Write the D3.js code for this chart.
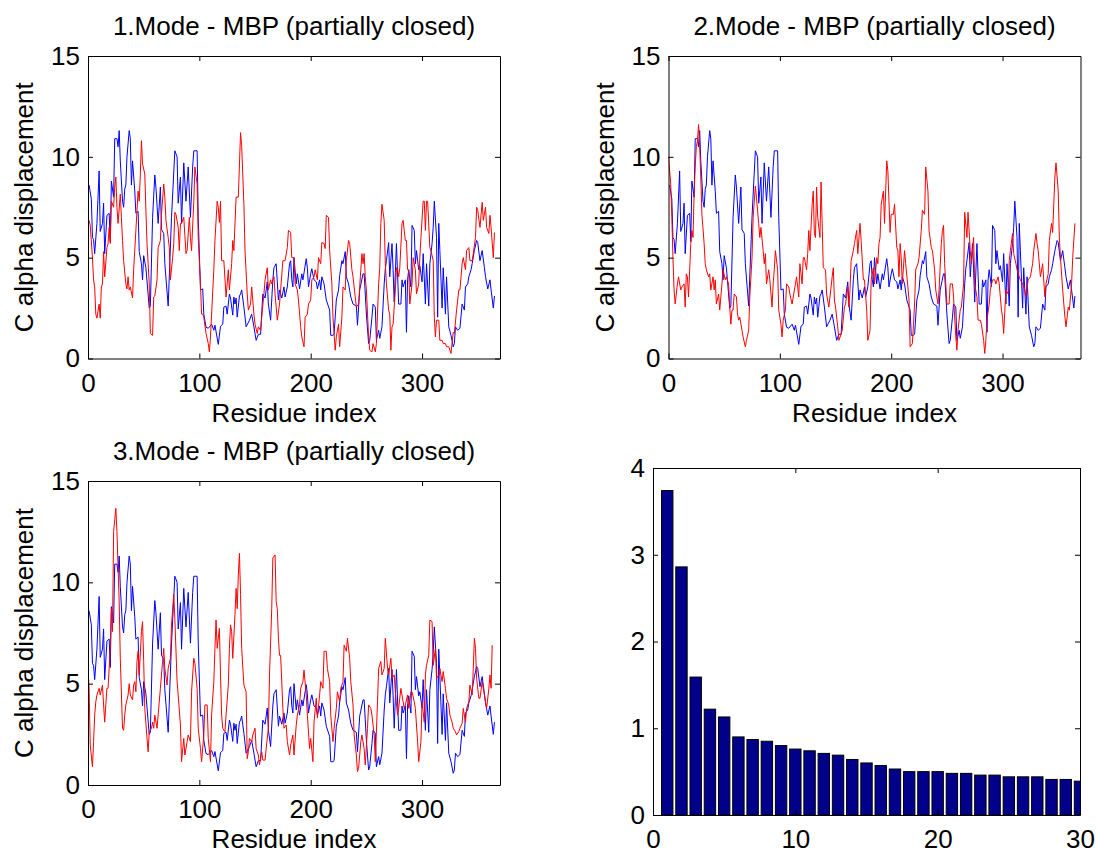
<!DOCTYPE html>
<html>
<head>
<meta charset="utf-8">
<script src="https://cdn.jsdelivr.net/npm/d3@7"></script>
<style>
    body { margin: 0; background: #fff; }
    svg { display: block; }
</style>
</head>
<body>
<svg id="fig" width="1097" height="855"></svg>
<script>
/*
*    Normal mode displacement panels + mode spectrum bar chart
*/

// ---- data ----
var titles = ["1.Mode - MBP (partially closed)", "2.Mode - MBP (partially closed)", "3.Mode - MBP (partially closed)"];
var residueTicks = [0, 100, 200, 300];
var dispTicks = [0, 5, 10, 15];
var barTicksX = [0, 10, 20, 30];
var barTicksY = [0, 1, 2, 3, 4];

// blue trace, same in all three panels: [residue, displacement]
var blueDisp = [[1,8.6],[3,7.9],[4,6.0],[5,5.9],[6,5.2],[8,6.7],[10,9.3],[11,6.3],[13,6.7],[14,7.7],[15,5.2],[17,7.1],[19,7.2],[20,5.8],[21,8.8],[23,8.0],[24,10.9],[26,10.9],[27,10.5],[28,11.3],[29,9.8],[31,7.8],[32,7.5],[33,8.4],[34,8.6],[35,10.0],[37,11.3],[38,10.9],[39,8.6],[40,9.8],[42,8.3],[43,7.2],[45,7.3],[46,5.3],[48,4.7],[49,3.9],[50,5.1],[52,4.5],[55,2.5],[56,2.6],[58,7.0],[60,9.1],[61,8.5],[63,6.7],[65,8.5],[66,6.4],[68,6.2],[69,4.7],[72,2.6],[75,7.0],[78,10.3],[80,10.0],[81,7.7],[83,9.0],[84,6.7],[86,9.7],[88,7.8],[90,9.5],[92,7.0],[94,9.5],[95,10.3],[98,10.3],[99,7.0],[101,3.4],[103,3.45],[104,2.2],[106,1.55],[108,1.5],[111,1.7],[113,1.4],[114,1.65],[117,0.7],[119,1.6],[121,1.7],[122,2.55],[124,2.6],[125,2.2],[127,3.2],[128,3.0],[130,2.15],[131,3.05],[132,2.7],[133,3.0],[134,2.05],[136,3.1],[137,3.2],[138,3.4],[140,2.55],[142,1.57],[145,1.9],[147,2.2],[149,1.57],[151,0.9],[153,1.2],[155,1.2],[157,3.2],[159,3.0],[161,3.8],[162,2.7],[164,1.9],[166,3.9],[167,4.5],[169,4.7],[171,2.9],[172,3.4],[174,3.0],[176,3.55],[177,3.05],[179,3.55],[181,4.7],[182,4.85],[183,3.9],[184,3.55],[185,5.0],[187,3.7],[188,4.2],[190,3.45],[192,4.2],[193,3.9],[196,4.95],[197,4.5],[198,3.55],[200,4.2],[201,4.45],[203,3.9],[205,3.8],[206,3.45],[208,3.9],[209,3.4],[210,4.05],[212,3.7],[214,2.9],[217,2.4],[218,1.15],[220,1.15],[221,1.2],[223,2.9],[225,3.4],[226,4.1],[228,4.85],[229,4.7],[231,5.3],[232,4.05],[234,3.7],[236,3.05],[238,2.7],[241,2.6],[242,1.65],[244,3.4],[247,4.2],[248,4.2],[250,2.2],[252,0.74],[253,0.9],[255,2.05],[256,2.7],[258,2.55],[259,0.9],[261,1.4],[262,1.0],[264,1.57],[266,3.7],[267,4.45],[268,4.85],[270,5.75],[271,4.05],[273,5.7],[274,4.4],[275,2.8],[277,5.7],[279,2.7],[281,2.7],[282,3.9],[283,3.55],[285,3.9],[286,1.3],[287,3.9],[288,4.4],[290,3.55],[291,6.6],[293,6.35],[294,4.7],[295,5.35],[297,4.4],[298,4.6],[300,3.8],[301,5.2],[303,2.7],[304,4.7],[306,2.6],[307,4.7],[309,5.7],[310,6.5],[311,7.8],[313,6.0],[314,2.05],[315,6.7],[316,5.35],[318,2.5],[319,4.5],[321,2.2],[322,4.05],[324,1.57],[326,1.15],[328,0.58],[329,0.74],[330,1.57],[332,1.4],[334,1.5],[336,2.7],[338,2.4],[339,3.55],[341,3.7],[342,4.05],[344,4.4],[345,4.7],[347,5.35],[349,5.85],[350,5.75],[352,4.85],[354,5.35],[356,4.5],[357,4.05],[359,3.45],[361,3.9],[362,3.4],[364,2.5],[365,3.1]];

// red traces, one per mode
var redMode1 = [[1,6.85],[2,6.6],[4,5.0],[5,3.9],[6,3.55],[7,2.2],[8,2.0],[10,2.7],[11,2.0],[12,3.55],[13,3.7],[14,5.3],[15,4.05],[17,5.5],[18,5.7],[19,6.5],[20,5.7],[21,7.8],[23,7.5],[24,8.5],[25,9.0],[26,7.5],[27,6.7],[29,8.15],[30,7.0],[31,5.85],[32,4.85],[34,3.7],[35,3.45],[36,4.05],[37,3.4],[38,3.55],[40,3.0],[41,4.4],[43,6.35],[45,8.3],[46,7.8],[47,9.15],[48,10.8],[49,9.65],[51,9.15],[52,7.35],[53,5.7],[55,3.7],[56,1.24],[58,1.15],[59,3.05],[60,3.1],[62,3.9],[63,5.5],[65,5.85],[66,7.15],[68,8.65],[69,8.0],[70,6.85],[72,6.0],[73,5.5],[74,3.9],[76,5.0],[77,5.7],[78,7.25],[79,7.15],[81,6.5],[82,5.35],[83,6.7],[84,6.7],[86,7.0],[87,6.1],[88,5.2],[89,5.35],[91,7.0],[92,6.0],[93,5.35],[95,7.8],[96,9.5],[98,8.65],[99,6.0],[101,3.7],[102,2.2],[103,2.2],[104,2.05],[106,1.24],[108,0.74],[109,0.33],[110,1.07],[111,2.2],[113,4.4],[114,5.85],[116,7.8],[117,7.5],[118,6.75],[119,7.8],[120,4.85],[122,4.85],[124,3.05],[126,4.4],[127,3.4],[129,4.7],[130,5.85],[131,5.35],[133,8.0],[135,8.0],[137,11.2],[138,10.55],[140,7.65],[141,5.35],[143,3.2],[144,2.4],[146,2.7],[147,3.55],[149,2.2],[150,1.7],[152,1.24],[153,1.57],[155,1.4],[156,2.05],[158,3.2],[159,3.9],[161,4.5],[162,3.4],[164,3.9],[165,3.7],[167,4.05],[168,3.2],[170,1.9],[172,2.7],[173,3.4],[175,4.85],[177,4.85],[179,5.5],[180,6.35],[182,6.25],[183,5.0],[185,5.0],[186,3.7],[188,3.4],[189,2.9],[191,1.57],[192,1.07],[194,0.58],[195,2.05],[197,2.2],[198,2.7],[200,2.9],[201,3.9],[203,4.05],[204,4.4],[206,3.9],[207,5.0],[209,4.7],[210,5.75],[212,5.7],[213,5.45],[214,7.1],[216,7.0],[217,5.35],[219,3.7],[220,2.05],[222,0.41],[223,1.07],[225,1.7],[226,0.58],[228,2.05],[229,3.55],[231,3.4],[232,4.85],[234,5.85],[235,5.7],[237,4.4],[238,4.05],[240,3.05],[241,2.55],[243,2.7],[245,4.4],[246,5.2],[247,4.7],[248,5.2],[249,4.05],[250,3.4],[252,1.07],[253,0.41],[255,0.33],[256,0.74],[258,0.33],[259,0.74],[261,3.7],[262,4.5],[263,6.7],[264,7.65],[266,6.85],[267,4.7],[268,3.7],[270,2.4],[271,2.2],[272,0.41],[273,1.57],[274,1.7],[276,3.4],[277,4.5],[278,4.4],[279,4.05],[280,4.5],[282,6.7],[283,6.85],[285,5.85],[286,5.85],[287,4.4],[288,4.4],[289,2.7],[291,3.7],[292,5.0],[294,4.4],[295,3.2],[297,3.7],[298,5.0],[299,6.0],[301,7.8],[302,7.8],[303,6.35],[304,7.8],[305,7.8],[307,5.5],[308,5.35],[310,4.85],[311,2.05],[312,1.07],[313,1.9],[315,1.9],[316,0.9],[318,0.9],[319,0.74],[321,0.74],[322,0.58],[324,0.58],[326,0.25],[328,1.3],[329,1.24],[331,2.4],[333,3.4],[334,3.4],[336,4.7],[337,5.0],[339,4.4],[340,5.35],[342,5.5],[343,4.85],[345,4.85],[346,5.2],[348,6.0],[349,7.5],[350,7.35],[352,6.5],[354,7.75],[355,6.85],[357,7.5],[358,6.5],[360,6.2],[361,7.1],[362,6.5],[364,5.0],[365,6.25]];

var redMode2 = [[0,10.0],[2,8.65],[3,7.0],[4,5.0],[5,3.4],[6,2.7],[8,3.7],[9,4.05],[11,3.4],[12,3.55],[14,3.7],[15,2.55],[16,4.2],[17,4.05],[18,3.05],[20,5.7],[21,6.35],[22,6.0],[23,8.15],[24,9.5],[25,10.5],[26,10.8],[27,11.6],[28,10.5],[29,9.0],[30,7.15],[32,5.7],[33,4.7],[34,4.4],[36,4.05],[37,4.2],[38,3.4],[40,4.05],[41,3.4],[42,3.9],[43,2.7],[45,3.2],[46,2.4],[48,3.7],[49,4.4],[51,3.9],[52,4.05],[54,3.7],[55,2.55],[56,1.7],[57,2.4],[58,2.4],[59,3.2],[61,3.05],[62,2.2],[63,1.9],[64,2.05],[66,1.4],[67,1.07],[69,0.58],[70,0.9],[72,1.4],[73,3.05],[75,5.0],[76,7.0],[78,8.55],[79,8.0],[81,6.7],[82,6.0],[83,6.5],[85,5.35],[86,4.7],[87,5.2],[88,3.7],[90,4.4],[91,3.9],[93,2.55],[94,3.7],[95,4.4],[96,5.35],[98,4.4],[99,2.4],[101,1.7],[102,1.07],[103,1.9],[105,2.4],[106,3.7],[108,3.55],[109,3.2],[111,2.7],[112,3.05],[114,3.7],[115,4.05],[117,3.05],[118,4.7],[120,3.7],[121,5.0],[122,5.0],[124,4.4],[125,5.2],[126,6.35],[127,5.35],[129,7.65],[130,8.3],[131,6.2],[132,6.0],[133,8.5],[134,7.0],[136,6.0],[137,8.75],[138,6.7],[139,4.5],[141,4.4],[142,3.2],[144,2.55],[145,3.05],[147,4.05],[148,4.5],[149,2.9],[150,2.55],[152,1.57],[153,0.9],[155,1.2],[156,1.4],[158,2.55],[159,2.7],[161,3.55],[162,2.55],[163,3.4],[164,4.85],[166,5.35],[167,5.7],[169,6.35],[170,5.2],[172,6.7],[173,5.85],[175,3.9],[176,3.9],[178,2.4],[179,0.9],[181,1.4],[182,3.9],[184,4.5],[185,3.7],[187,5.0],[188,4.7],[189,5.7],[190,6.0],[191,7.65],[193,8.3],[194,6.7],[196,9.8],[197,9.3],[199,6.25],[200,7.15],[202,7.15],[203,7.65],[205,5.5],[206,5.35],[207,4.05],[208,5.7],[209,5.0],[210,3.7],[212,5.35],[213,4.7],[215,3.55],[216,2.9],[217,0.58],[219,0.74],[220,1.7],[221,2.7],[222,4.4],[224,4.7],[225,5.0],[227,6.35],[228,7.35],[230,7.15],[231,9.5],[233,8.3],[234,6.35],[236,5.5],[237,5.35],[239,4.4],[240,3.4],[242,2.7],[243,3.4],[245,5.7],[246,6.35],[247,6.6],[248,4.7],[250,2.7],[252,2.7],[253,3.7],[255,3.7],[256,3.05],[258,1.07],[259,0.41],[260,1.4],[262,2.4],[263,2.55],[265,3.7],[266,7.25],[268,6.0],[269,7.25],[271,5.35],[272,4.7],[274,6.0],[275,3.7],[277,3.05],[278,1.9],[280,1.9],[281,1.7],[283,0.9],[284,0.25],[285,0.9],[286,1.9],[288,2.7],[289,3.4],[291,3.9],[293,3.9],[294,3.7],[296,4.05],[297,3.7],[299,2.4],[300,2.05],[301,1.24],[303,3.4],[305,3.2],[306,4.85],[307,5.35],[309,6.2],[310,5.2],[312,4.7],[313,4.4],[315,4.05],[316,3.9],[318,3.7],[320,3.4],[321,3.05],[323,3.9],[325,4.05],[327,4.7],[328,5.35],[330,6.2],[331,5.7],[332,5.35],[334,4.05],[336,4.7],[338,3.05],[339,3.7],[341,4.2],[342,5.85],[344,6.7],[345,6.25],[347,9.0],[348,9.7],[350,8.3],[351,6.0],[352,5.0],[354,3.4],[356,2.05],[357,1.57],[359,2.55],[360,2.4],[362,3.7],[363,5.0],[365,6.7]];

var redMode3 = [[0,5.75],[1,4.77],[2,1.97],[4,0.9],[5,2.14],[6,3.45],[7,4.1],[8,4.44],[10,4.77],[11,4.44],[13,4.93],[14,3.95],[15,3.1],[16,3.95],[17,4.77],[18,4.77],[20,6.74],[21,8.7],[22,7.57],[23,12.5],[25,13.65],[26,12.5],[28,9.05],[29,6.25],[31,2.8],[32,2.7],[33,3.45],[34,3.95],[36,4.44],[37,5.0],[38,4.44],[40,4.2],[41,4.93],[42,5.1],[43,4.6],[44,6.1],[45,6.6],[46,5.43],[48,7.57],[49,8.06],[50,6.1],[51,3.78],[53,2.3],[54,1.64],[55,2.63],[57,2.8],[58,3.1],[59,2.8],[60,3.45],[62,2.8],[63,3.45],[64,4.1],[65,4.77],[67,6.1],[68,6.74],[69,5.75],[71,4.93],[72,5.75],[74,6.25],[75,7.9],[77,9.4],[78,8.2],[80,5.1],[81,4.44],[83,2.96],[84,1.15],[86,2.3],[87,1.48],[89,2.14],[90,2.47],[92,2.14],[93,4.6],[95,6.25],[96,6.0],[98,4.77],[99,2.8],[101,1.8],[102,1.15],[104,2.47],[105,3.95],[107,3.95],[108,2.3],[110,1.15],[111,3.45],[113,5.1],[114,6.74],[115,8.14],[116,6.74],[118,7.73],[119,5.43],[120,3.45],[121,2.8],[123,2.63],[124,3.45],[126,4.93],[127,6.74],[128,7.9],[129,7.57],[130,6.25],[132,8.4],[133,9.7],[134,8.7],[135,10.36],[136,11.43],[137,9.4],[138,6.74],[140,4.93],[142,4.6],[143,1.3],[144,1.64],[145,2.3],[147,2.14],[148,2.47],[150,2.8],[151,1.8],[153,1.48],[154,0.99],[156,1.64],[157,1.23],[159,1.23],[160,1.8],[162,2.8],[163,5.43],[165,8.7],[166,11.2],[168,11.35],[169,9.05],[170,8.7],[171,7.24],[172,6.4],[173,6.4],[175,3.78],[176,2.8],[178,2.96],[179,2.14],[181,1.48],[182,1.97],[184,2.47],[185,1.48],[187,2.96],[188,3.45],[190,3.95],[191,4.77],[193,5.1],[194,5.67],[196,4.44],[197,3.45],[199,1.8],[200,2.3],[202,1.15],[203,3.1],[205,4.28],[206,3.3],[208,4.44],[209,5.1],[211,4.77],[212,6.6],[214,6.6],[215,5.75],[217,5.1],[218,3.45],[220,2.14],[221,2.8],[223,3.78],[224,4.6],[226,4.1],[227,4.77],[229,5.1],[230,6.9],[232,6.6],[233,7.24],[235,6.25],[236,5.1],[238,3.95],[239,2.47],[241,1.48],[242,0.66],[243,0.82],[245,2.14],[246,2.47],[248,1.8],[249,0.99],[251,2.8],[252,3.95],[254,3.78],[255,3.45],[257,2.47],[258,1.15],[260,4.1],[261,5.75],[263,6.1],[264,5.43],[266,5.75],[267,7.24],[269,5.75],[270,5.43],[272,6.25],[273,5.26],[275,5.43],[276,4.6],[278,3.45],[279,3.78],[281,4.77],[282,4.44],[284,3.78],[285,3.95],[287,4.44],[288,3.78],[290,4.6],[291,4.6],[293,4.1],[294,3.78],[296,2.14],[297,1.15],[299,2.14],[300,4.1],[302,3.1],[303,5.43],[304,5.9],[306,6.4],[307,8.14],[309,8.06],[310,5.9],[312,6.74],[313,5.26],[315,5.43],[316,5.75],[318,5.1],[319,5.6],[321,4.77],[322,4.28],[324,3.95],[325,3.45],[327,3.1],[328,2.8],[330,2.63],[331,2.47],[333,2.63],[334,2.8],[336,3.04],[337,3.78],[339,3.1],[340,3.78],[342,4.1],[343,4.93],[345,4.44],[346,5.75],[347,7.24],[348,6.74],[349,5.26],[351,4.28],[352,4.28],[354,5.1],[355,4.77],[357,4.1],[358,3.78],[360,4.77],[361,5.43],[362,4.77],[363,6.9]];

// bar chart (modes 1..30)
var modeValues = [3.74, 2.86, 1.59, 1.22, 1.13, 0.90, 0.87, 0.85, 0.80, 0.76, 0.74, 0.71, 0.69, 0.64, 0.60, 0.57, 0.53, 0.50, 0.50, 0.50, 0.48, 0.48, 0.46, 0.46, 0.44, 0.44, 0.44, 0.41, 0.41, 0.39];

// ---- drawing ----
var font = "'Liberation Sans', Arial, Helvetica, sans-serif";
var fontSize = 26;
var svg = d3.select("#fig");
var clipCount = 0;

// MATLAB style box: inward ticks on all four sides
function drawAxes(x, y, xTicks, yTicks) {
    var x0 = x.range()[0], x1 = x.range()[1];
    var y0 = y.range()[0], y1 = y.range()[1];
    var fmt = d3.format("d");
    var g = svg.append("g");

    g.append("g").attr("transform", "translate(0," + y0 + ")")
        .call(d3.axisBottom(x).tickValues(xTicks).tickFormat(fmt).tickSize(-5).tickSizeOuter(0).tickPadding(15));
    g.append("g").attr("transform", "translate(0," + y1 + ")")
        .call(d3.axisTop(x).tickValues(xTicks).tickSize(-5).tickSizeOuter(0).tickFormat(""));
    g.append("g").attr("transform", "translate(" + x0 + ",0)")
        .call(d3.axisLeft(y).tickValues(yTicks).tickFormat(fmt).tickSize(-5).tickSizeOuter(0).tickPadding(8));
    g.append("g").attr("transform", "translate(" + x1 + ",0)")
        .call(d3.axisRight(y).tickValues(yTicks).tickSize(-5).tickSizeOuter(0).tickFormat(""));

    g.selectAll("g").attr("font-size", null).attr("font-family", null);
    g.selectAll("text").style("font-family", font).style("font-size", fontSize + "px").attr("fill", "#000");
    g.selectAll("path, line").attr("stroke", "#000").attr("stroke-width", 1);
    return g;
}

function addClip(x, y) {
    var id = "clip" + (clipCount++);
    svg.append("clipPath").attr("id", id)
        .append("rect")
        .attr("x", x.range()[0]).attr("y", y.range()[1])
        .attr("width", x.range()[1] - x.range()[0])
        .attr("height", y.range()[0] - y.range()[1]);
    return "url(#" + id + ")";
}

function addText(txt, px, py, rotate) {
    return svg.append("text")
        .attr("transform", "translate(" + px + "," + py + ")" + (rotate ? " rotate(-90)" : ""))
        .attr("text-anchor", "middle")
        .style("font-family", font)
        .style("font-size", fontSize + "px")
        .attr("fill", "#000")
        .text(txt);
}

// Object Constructor
LinePanel = function(_box, _title, _red) {
    this.box = _box;      // [left, top, right, bottom]
    this.title = _title;
    this.red = _red;
    this.initVis();
};

LinePanel.prototype.initVis = function() {
    var vis = this;
    var b = vis.box;

    vis.x = d3.scaleLinear().domain([0, 370]).range([b[0], b[2]]);
    vis.y = d3.scaleLinear().domain([0, 15]).range([b[3], b[1]]);

    vis.line = d3.line()
        .x(function(d) { return vis.x(d[0]); })
        .y(function(d) { return vis.y(d[1]); });

    var clip = addClip(vis.x, vis.y);
    var g = svg.append("g").attr("clip-path", clip);

    // blue first, red drawn on top
    g.append("path").datum(blueDisp)
        .attr("fill", "none").attr("stroke", "#0000ff").attr("stroke-width", 1)
        .attr("d", vis.line);
    g.append("path").datum(vis.red)
        .attr("fill", "none").attr("stroke", "#ff0000").attr("stroke-width", 1)
        .attr("d", vis.line);

    drawAxes(vis.x, vis.y, residueTicks, dispTicks);

    var cx = (b[0] + b[2]) / 2;
    addText(vis.title, cx, b[1] - 21);
    addText("Residue index", cx, b[3] + 63);
    addText("C alpha displacement", b[0] - 55, (b[1] + b[3]) / 2, true);
};

new LinePanel([88, 56, 500, 358.5], titles[0], redMode1);
new LinePanel([668.5, 56, 1080.5, 358.5], titles[1], redMode2);
new LinePanel([88, 481, 500, 785], titles[2], redMode3);

// bar chart of the mode spectrum
(function() {
    var x = d3.scaleLinear().domain([0, 30]).range([653, 1080]);
    var y = d3.scaleLinear().domain([0, 4]).range([815, 468]);
    var clip = addClip(x, y);

    svg.append("g").attr("clip-path", clip)
        .selectAll("rect")
        .data(modeValues)
        .enter().append("rect")
        .attr("x", function(d, i) { return x(i + 1 - 0.4); })
        .attr("width", function(d, i) { return x(i + 1 + 0.4) - x(i + 1 - 0.4); })
        .attr("y", function(d) { return y(d); })
        .attr("height", function(d) { return y(0) - y(d); })
        .attr("fill", "#00008b")
        .attr("stroke", "#000")
        .attr("stroke-width", 1);

    drawAxes(x, y, barTicksX, barTicksY);
})();
</script>
</body>
</html>
